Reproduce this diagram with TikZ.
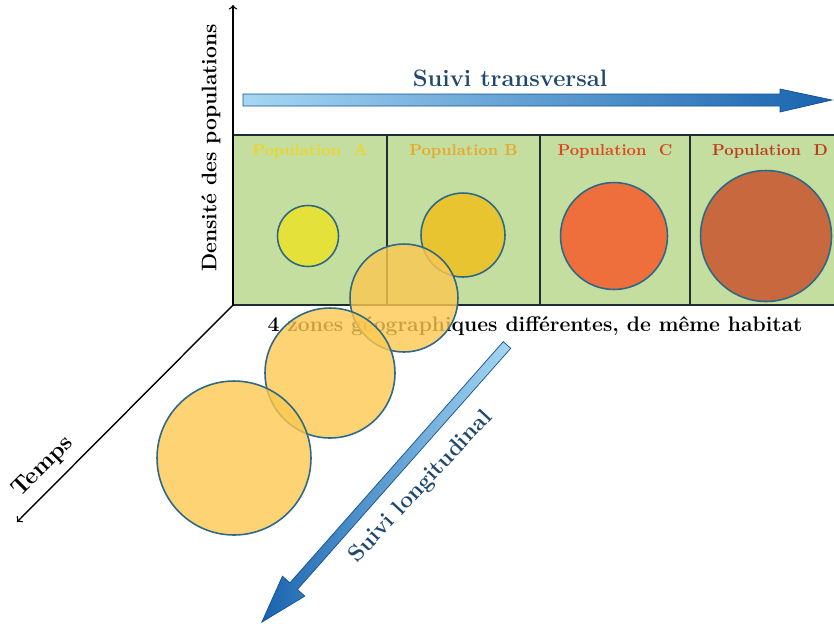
\documentclass[tikz,border=0pt]{standalone}
\usepackage{tikz}
\usetikzlibrary{positioning}

\definecolor{zonegreen}{RGB}{196,222,160}
\definecolor{zoneline}{RGB}{30,45,50}
\definecolor{circedge}{RGB}{45,105,135}
\definecolor{fillA}{RGB}{228,226,58}
\definecolor{fillB}{RGB}{232,196,48}
\definecolor{fillC}{RGB}{238,110,60}
\definecolor{fillD}{RGB}{200,104,62}
\definecolor{textA}{RGB}{238,212,40}
\definecolor{textB}{RGB}{232,168,40}
\definecolor{textC}{RGB}{222,72,30}
\definecolor{textD}{RGB}{188,62,32}
\definecolor{timeorange}{RGB}{252,200,80}
\definecolor{arrowlight}{RGB}{165,215,242}
\definecolor{arrowdark}{RGB}{25,100,175}
\definecolor{arrowedge}{RGB}{20,80,150}
\definecolor{suivitext}{RGB}{30,72,110}

\begin{document}
\begin{tikzpicture}[x=0.02cm, y=-0.02cm,
    zone/.style={draw=zoneline, line width=0.8pt, fill=zonegreen,
      minimum height=3.4cm, inner sep=0pt},
    poplabel/.style={font=\bfseries\fontsize{9}{10}\selectfont, inner sep=0pt},
    popcircle/.style={circle, draw=circedge, line width=0.9pt, inner sep=0pt},
    timecircle/.style={popcircle, fill=timeorange, fill opacity=0.8},
    bigtext/.style={font=\bfseries\fontsize{12}{14}\selectfont},
    bigarrow/.style={draw=arrowedge, line width=0.4pt,
      left color=arrowlight, right color=arrowdark},
    backarrow/.style={bigarrow, left color=arrowdark, right color=arrowlight}]
  \useasboundingbox (0,0) rectangle (834,623);

  % les 4 zones
  \node[zone, minimum width=3.08cm] (zoneA) at (310,220) {};
  \node[zone, minimum width=3.06cm] (zoneB) at (463.5,220) {};
  \node[zone, minimum width=3.0cm] (zoneC) at (615,220) {};
  \node[zone, minimum width=3.2cm] (zoneD) at (770,220) {};

  \node[poplabel, text=textA, below=0.2cm of zoneA.north] (labA) {Population\ \ A};
  \node[poplabel, text=textB, below=0.2cm of zoneB.north] (labB) {Population B};
  \node[poplabel, text=textC, below=0.2cm of zoneC.north] (labC) {Population\ \ C};
  \node[poplabel, text=textD, below=0.2cm of zoneD.north] (labD) {Population\ \ D};

  \node[popcircle, fill=fillA, minimum size=1.22cm] (circA) at (308,236) {};
  \node[popcircle, fill=fillB, minimum size=1.68cm] (circB) at (463,235) {};
  \node[popcircle, fill=fillC, minimum size=2.14cm] (circC) at (614,236) {};
  \node[popcircle, fill=fillD, minimum size=2.62cm] (circD) at (766,236) {};

  \node[bigtext] (zones) at (535,326) {4 zones géographiques différentes, de même habitat};

  % axes
  \coordinate (origin) at (233,305);
  \coordinate (ytop) at (233,5);
  \coordinate (tend) at (17,522);
  \draw[->, line width=0.8pt] (origin) -- (ytop);
  \draw[->, line width=0.8pt] (origin) -- (tend);
  \node[bigtext, rotate=90] (densite) at (211,148) {Densité des populations};
  \node[font=\bfseries\fontsize{13.5}{15}\selectfont, rotate=45] (temps) at (43,467) {Temps};

  % suivi dans le temps
  \node[timecircle, minimum size=2.16cm] (time1) at (404,298) {};
  \node[timecircle, minimum size=2.6cm] (time2) at (330,373) {};
  \node[timecircle, minimum size=3.08cm] (time3) at (234,458) {};

  % fleches
  \draw[bigarrow] (243,94) -- (780,94) -- (780,89) -- (832,100)
    -- (780,112) -- (780,106) -- (243,106) -- cycle;
  \node[text=suivitext, font=\bfseries\fontsize{13.5}{16}\selectfont] (transv) at (510,78) {Suivi transversal};

  \begin{scope}[shift={(507,345)}, rotate=228.5]
    \draw[backarrow] (0,-5) -- (322,-5) -- (322,-15) -- (370,0)
      -- (322,15) -- (322,5) -- (0,5) -- cycle;
  \end{scope}
  \node[text=suivitext, font=\bfseries\fontsize{13}{15}\selectfont, rotate=47] (longi) at (421,487) {Suivi longitudinal};
\end{tikzpicture}
\end{document}
